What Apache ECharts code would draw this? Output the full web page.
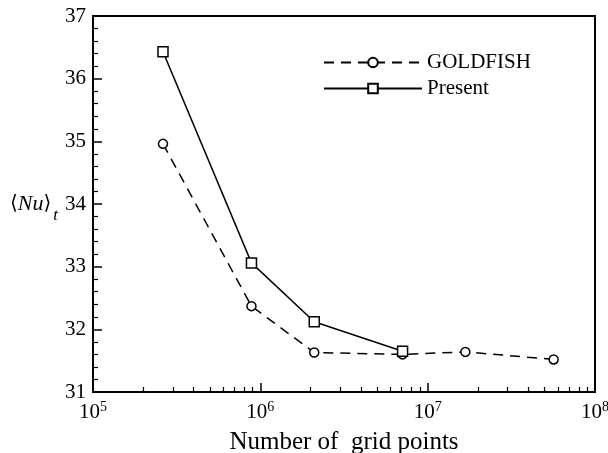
<!DOCTYPE html>
<html>
<head>
<meta charset="utf-8">
<script src="https://cdn.jsdelivr.net/npm/echarts@6/dist/echarts.min.js"></script>
<style>
  html, body { margin: 0; padding: 0; background: #fff; }
  #chart { width: 608px; height: 453px; }
</style>
</head>
<body>
<div id="chart"></div>
<script>
// Grid resolution study: number of grid points vs time-averaged Nusselt number
const gridPointsGoldfish = [2.62e5, 8.85e5, 2.10e6, 7.08e6, 1.68e7, 5.66e7];
const nuGoldfish = [34.96, 32.37, 31.63, 31.60, 31.64, 31.52];

const gridPointsPresent = [2.62e5, 8.85e5, 2.10e6, 7.08e6];
const nuPresent = [36.43, 33.06, 32.12, 31.65];

const seriesNames = ['GOLDFISH', 'Present'];
const xDecades = [1e5, 1e6, 1e7, 1e8];

// minor ticks at 2..9 within each decade
const xMinor = [];
for (let d = 0; d < xDecades.length - 1; d++) {
  for (let k = 2; k <= 9; k++) xMinor.push(k * xDecades[d]);
}

const FONT = "'Liberation Serif', 'DejaVu Serif', serif";

const chart = echarts.init(document.getElementById('chart'), null, { renderer: 'canvas' });

const pair = (xs, ys) => xs.map((x, i) => [x, ys[i]]);

chart.setOption({
  animation: false,
  backgroundColor: '#fff',
  grid: {
    left: 93, right: 13, top: 16, bottom: 61,
    containLabel: false, outerBoundsMode: 'none',
    show: true, borderColor: '#000', borderWidth: 2, backgroundColor: 'transparent'
  },
  legend: {
    orient: 'vertical',
    left: 318, top: 47,
    itemWidth: 98, itemHeight: 12, itemGap: 5,
    textStyle: { fontFamily: FONT, fontSize: 21, color: '#000', padding: [0, 0, 0, 0] },
    data: seriesNames
  },
  xAxis: [
    {
      type: 'log', logBase: 10, min: 1e5, max: 1e8,
      name: 'Number of  grid points', nameLocation: 'middle', nameGap: 38,
      nameTextStyle: { fontFamily: FONT, fontSize: 25, color: '#000' },
      axisLine: { show: true, lineStyle: { color: '#000', width: 2 } },
      axisTick: { show: true, inside: true, length: 9, lineStyle: { color: '#000', width: 1.5 } },
      axisLabel: {
        color: '#000', margin: 8,
        formatter: v => '{b|10}{s|' + Math.round(Math.log10(v)) + '}',
        rich: {
          b: { fontFamily: FONT, fontSize: 21, color: '#000' },
          s: { fontFamily: FONT, fontSize: 14, color: '#000', padding: [0, 0, 10, 0] }
        }
      },
      splitLine: { show: false }
    },
    {
      type: 'log', logBase: 10, min: 1e5, max: 1e8, position: 'bottom',
      axisLine: { show: false },
      axisTick: { show: true, inside: true, length: 5, customValues: xMinor, lineStyle: { color: '#000', width: 1.2 } },
      axisLabel: { show: false },
      splitLine: { show: false }
    }
  ],
  yAxis: {
    type: 'value', min: 31, max: 37, interval: 1,
    name: '{a|⟨}{i|Nu}{a|⟩}{s|t}', nameLocation: 'middle', nameRotate: 0, nameGap: 35,
    nameTextStyle: {
      rich: {
        a: { fontFamily: "'DejaVu Serif', serif", fontSize: 20, color: '#000' },
        i: { fontFamily: FONT, fontSize: 22, fontStyle: 'italic', color: '#000' },
        s: { fontFamily: FONT, fontSize: 17, fontStyle: 'italic', color: '#000', padding: [24, 0, 0, 2] }
      }
    },
    axisLine: { show: true, lineStyle: { color: '#000', width: 2 } },
    axisTick: { show: true, inside: true, length: 9, lineStyle: { color: '#000', width: 1.5 } },
    minorTick: { show: true, splitNumber: 5, length: 5, lineStyle: { color: '#000', width: 1.2 } },
    axisLabel: { color: '#000', fontFamily: FONT, fontSize: 21, margin: 7 },
    splitLine: { show: false }
  },
  series: [
    {
      name: seriesNames[0], type: 'line',
      data: pair(gridPointsGoldfish, nuGoldfish),
      symbol: 'circle', symbolSize: 9,
      lineStyle: { color: '#000', width: 1.5, type: [10, 7] },
      itemStyle: { color: '#fff', borderColor: '#000', borderWidth: 1.5 },
      z: 3
    },
    {
      name: seriesNames[1], type: 'line',
      data: pair(gridPointsPresent, nuPresent),
      symbol: 'rect', symbolSize: 10,
      lineStyle: { color: '#000', width: 1.5, type: 'solid' },
      itemStyle: { color: '#fff', borderColor: '#000', borderWidth: 1.5 },
      z: 4
    }
  ]
});
</script>
</body>
</html>
